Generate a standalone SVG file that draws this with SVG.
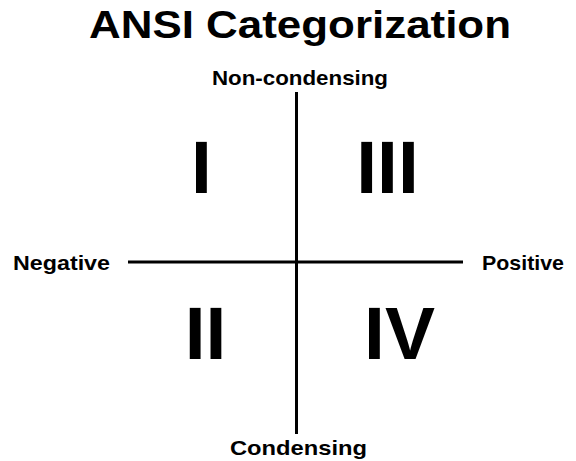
<svg xmlns="http://www.w3.org/2000/svg" width="576" height="461" viewBox="0 0 576 461">
<style>
text{font-family:"Liberation Sans",Arial,sans-serif;font-weight:bold;fill:#000}
.t{font-size:38px}
.l{font-size:21px}
.q{font-size:75px;text-anchor:middle}
.ax{stroke:#000;stroke-width:3;fill:none}
</style>
<rect width="576" height="461" fill="#fff"/>
<g id="title"><text class="t" x="89" y="38" textLength="422" lengthAdjust="spacingAndGlyphs">ANSI Categorization</text></g>
<g id="connectors">
<line class="ax" x1="296.5" y1="92" x2="296.5" y2="434"/>
<line class="ax" x1="128" y1="262" x2="463" y2="262"/>
</g>
<g id="top"><text class="l" x="212" y="85" textLength="176" lengthAdjust="spacingAndGlyphs">Non-condensing</text></g>
<g id="bottom"><text class="l" x="230" y="455" textLength="137" lengthAdjust="spacingAndGlyphs">Condensing</text></g>
<g id="left"><text class="l" x="13" y="270" textLength="97" lengthAdjust="spacingAndGlyphs">Negative</text></g>
<g id="right"><text class="l" x="482" y="270" textLength="82" lengthAdjust="spacingAndGlyphs">Positive</text></g>
<g id="q1"><text class="q" x="201.5" y="193">I</text></g>
<g id="q3"><text class="q" x="387.5" y="193">III</text></g>
<g id="q2"><text class="q" x="205.5" y="359">II</text></g>
<g id="q4"><text class="q" x="399.5" y="359">IV</text></g>
</svg>
